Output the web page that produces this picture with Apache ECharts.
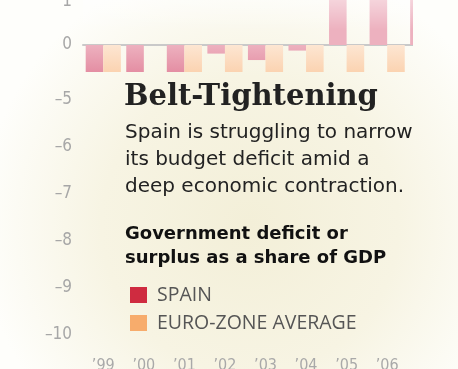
<!DOCTYPE html>
<html><head><meta charset="utf-8">
<script src="https://cdn.jsdelivr.net/npm/echarts@6/dist/echarts.min.js"></script>
<style>html,body{margin:0;padding:0;background:#fff}#c{width:458px;height:369px}</style>
</head><body><div id="c"></div>
<script>
// ---- data ----
const years = ["’99","’00","’01","’02","’03","’04","’05","’06","’07"];
const spain = [-1.2, -0.9, -0.7, -0.2, -0.35, -0.13, 1.1, 2.0, 1.9];
const euro  = [-1.4, 0, -1.9, -2.6, -3.1, -2.9, -2.5, -1.3, -0.6];
const upperTicks = [1, 0];
const lowerTicks = [-5, -6, -7, -8, -9, -10];
const titleText = "Belt-Tightening";
const subtitleLines = ["Spain is struggling to narrow", "its budget deficit amid a", "deep economic contraction."];
const headLines = ["Government deficit or", "surplus as a share of GDP"];
const seriesNames = ["SPAIN", "EURO-ZONE AVERAGE"];

// ---- styling ----
const bgGrad = () => ({type:'radial', x:250, y:225, r:270, global:true,
  colorStops:[{offset:0,color:'#f3efd8'},{offset:0.55,color:'#f7f4e3'},{offset:1,color:'#fefefb'}]});
const spainGrad = {type:'linear', x:0, y:45, x2:0, y2:72, global:true,
  colorStops:[{offset:0,color:'#edb1bf'},{offset:1,color:'#e48ea3'}]};
const euroGrad = {type:'linear', x:0, y:45, x2:0, y2:72, global:true,
  colorStops:[{offset:0,color:'#fde6d2'},{offset:1,color:'#fbd3b1'}]};
const numFont = '"DejaVu Sans Condensed","Liberation Sans",sans-serif';
const sansFont = '"DejaVu Sans",sans-serif';
const fmtNum = v => String(v).replace('-', '\u2013');

const chart = echarts.init(document.getElementById('c'), null, {renderer:'canvas'});
const texts = [];
texts.push({type:'text', z:20, style:{x:124, y:97, text:titleText, fill:'#222',
  font:'bold 29px "DejaVu Serif"', textVerticalAlign:'middle'}});
subtitleLines.forEach((t,i)=>texts.push({type:'text', z:20, style:{x:125, y:133+i*27, text:t, fill:'#222',
  font:'20px '+sansFont, textVerticalAlign:'middle'}}));
headLines.forEach((t,i)=>texts.push({type:'text', z:20, style:{x:125, y:234+i*24, text:t, fill:'#111',
  font:'bold 18px '+sansFont, textVerticalAlign:'middle'}}));

chart.setOption({
  backgroundColor:'#ffffff',
  animation:false,
  grid:[
    {left:83, top:2, width:365, height:86, outerBoundsMode:'none', containLabel:false},
    {left:83, top:100, width:365, height:235, outerBoundsMode:'none', containLabel:false}
  ],
  xAxis:[
    {type:'category', gridIndex:0, data:years, axisTick:{show:false}, axisLabel:{show:false},
     axisLine:{onZero:true, lineStyle:{color:'#c9c9c9', width:2}}},
    {type:'category', gridIndex:1, data:years, axisTick:{show:false}, axisLine:{show:false},
     axisLabel:{margin:23, color:'#a9a9a9', fontSize:16, fontFamily:numFont,
       formatter:(v,i)=> i < 8 ? v : ''}}
  ],
  yAxis:[
    {type:'value', gridIndex:0, min:-1, max:1, interval:1, splitLine:{show:false},
     axisLine:{show:false}, axisTick:{show:false},
     axisLabel:{margin:11, color:'#a7a7a7', fontSize:17, fontFamily:numFont, showMaxLabel:true,
       formatter:v=> upperTicks.includes(v) ? fmtNum(v) : ''}},
    {type:'value', gridIndex:1, min:-10, max:-5, interval:1, splitLine:{show:false},
     axisLine:{show:false}, axisTick:{show:false},
     axisLabel:{margin:11, color:'#a7a7a7', fontSize:17, fontFamily:numFont, showMaxLabel:true, showMinLabel:true,
       formatter:v=> lowerTicks.includes(v) ? fmtNum(v) : ''}}
  ],
  legend:{
    z:20, orient:'vertical', left:125, top:280, itemWidth:17, itemHeight:16, itemGap:8, icon:'rect',
    selectedMode:false,
    textStyle:{color:'#555', fontSize:19.5, fontFamily:'"Open Sans",sans-serif', padding:[0,0,0,5]},
    data:[{name:seriesNames[0], itemStyle:{color:'#cf2b40'}},{name:seriesNames[1], itemStyle:{color:'#f7ac6c'}}]
  },
  series:[
    {name:seriesNames[0], type:'bar', xAxisIndex:0, yAxisIndex:0, data:spain, barGap:'0%', barCategoryGap:'13.3%',
     clip:false, itemStyle:{color:spainGrad}},
    {name:seriesNames[1], type:'bar', xAxisIndex:0, yAxisIndex:0, data:euro, barGap:'0%', barCategoryGap:'13.3%',
     clip:false, itemStyle:{color:euroGrad}}
  ],
  graphic:{elements:[
    {type:'rect', z:-10, silent:true, shape:{x:0,y:0,width:458,height:369}, style:{fill:bgGrad()}},
    {type:'rect', z:5, silent:true, shape:{x:83,y:0,width:330,height:30},
      style:{fill:{type:'linear',x:0,y:0,x2:0,y2:1,colorStops:[{offset:0,color:'rgba(255,255,255,0.45)'},{offset:1,color:'rgba(255,255,255,0)'}]}}},
    {type:'rect', z:10, silent:true, shape:{x:75,y:72,width:383,height:200}, style:{fill:bgGrad()}},
    {type:'rect', z:10, silent:true, shape:{x:413,y:0,width:45,height:80}, style:{fill:bgGrad()}},
    ...texts
  ]}
});
</script></body></html>
